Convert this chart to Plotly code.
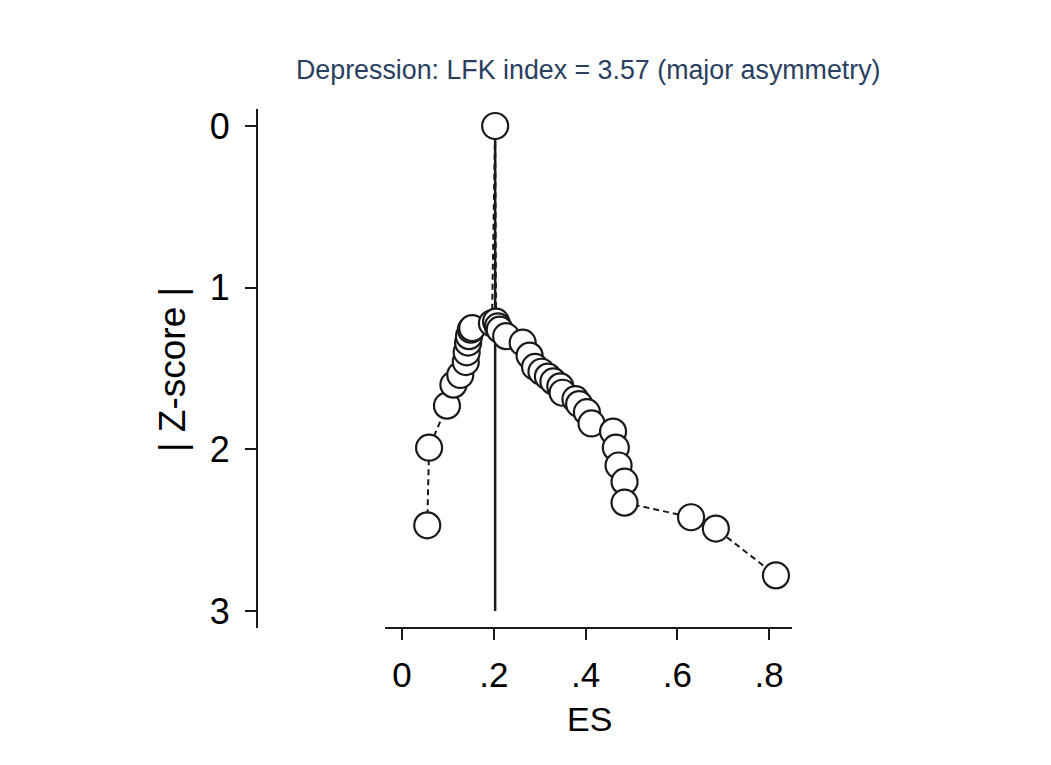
import plotly.graph_objects as go

# Doi plot for the depression studies: effect size vs |Z-score|
es = [0.055, 0.059, 0.098, 0.112, 0.127, 0.139, 0.141, 0.144, 0.146, 0.150,
      0.153, 0.196, 0.203, 0.205, 0.209, 0.213, 0.227, 0.263, 0.278, 0.290,
      0.304, 0.318, 0.330, 0.345, 0.350, 0.378, 0.386, 0.403, 0.413, 0.460,
      0.466, 0.472, 0.485, 0.485, 0.630, 0.684, 0.815]
z_abs = [2.47, 1.99, 1.73, 1.60, 1.54, 1.46, 1.40, 1.34, 1.30, 1.26,
         1.25, 1.22, 0.00, 1.21, 1.24, 1.26, 1.30, 1.34, 1.42, 1.49,
         1.52, 1.55, 1.58, 1.61, 1.65, 1.69, 1.72, 1.77, 1.84, 1.89,
         1.99, 2.10, 2.20, 2.33, 2.42, 2.49, 2.78]

es_ref = 0.203          # effect size of the most precise study
z_span = [0, 3]
x_ticks = [0, 0.2, 0.4, 0.6, 0.8]
x_tick_text = ["0", ".2", ".4", ".6", ".8"]
y_ticks = [0, 1, 2, 3]
title_text = "Depression: LFK index = 3.57 (major asymmetry)"

FONT = "Arial, Liberation Sans, Helvetica, sans-serif"
INK = "#1a1a1a"

fig = go.Figure()

# vertical reference line at the most precise study
fig.add_trace(go.Scatter(
    x=[es_ref, es_ref], y=z_span, mode="lines",
    line=dict(color=INK, width=2.5), hoverinfo="skip", showlegend=False))

# Doi curve: studies joined in effect-size order
fig.add_trace(go.Scatter(
    x=es, y=z_abs, mode="lines+markers",
    line=dict(color=INK, width=2, dash="6px,4px"),
    marker=dict(size=26, color="white", line=dict(color=INK, width=2.2)),
    showlegend=False))

# detached x-axis line
fig.add_shape(type="line", xref="x", yref="paper",
              x0=-0.037, x1=0.85, y0=0, y1=0,
              line=dict(color=INK, width=2))

fig.add_annotation(text=title_text, xref="paper", yref="paper",
                   x=0.618, y=1.075, xanchor="center", yanchor="middle",
                   showarrow=False, font=dict(family=FONT, size=26.8, color="#2a3f5f"))
fig.add_annotation(text="ES", xref="x", yref="paper",
                   x=0.4076, y=-0.175, xanchor="center", yanchor="middle",
                   showarrow=False, font=dict(family=FONT, size=34, color="black"))
fig.add_annotation(text="| Z-score |", xref="paper", yref="paper",
                   x=-0.161, y=0.497, xanchor="center", yanchor="middle",
                   textangle=-90, showarrow=False,
                   font=dict(family=FONT, size=37, color="black"))

fig.update_layout(
    width=1051, height=765,
    margin=dict(l=258, r=259, t=109, b=137),
    paper_bgcolor="white", plot_bgcolor="white",
    font=dict(family=FONT, color="black"),
    xaxis=dict(range=[-0.3139, 0.85], tickvals=x_ticks, ticktext=x_tick_text,
               ticks="outside", ticklen=11, tickwidth=2, tickcolor=INK,
               showline=False, showgrid=False, zeroline=False,
               tickfont=dict(size=35), ticklabelstandoff=5),
    yaxis=dict(range=[3.105, -0.105], tickvals=y_ticks,
               ticks="outside", ticklen=11, tickwidth=2, tickcolor=INK,
               showline=True, linewidth=2, linecolor=INK,
               showgrid=False, zeroline=False,
               tickfont=dict(size=36), ticklabelstandoff=8),
)

fig.write_html("out.html")
